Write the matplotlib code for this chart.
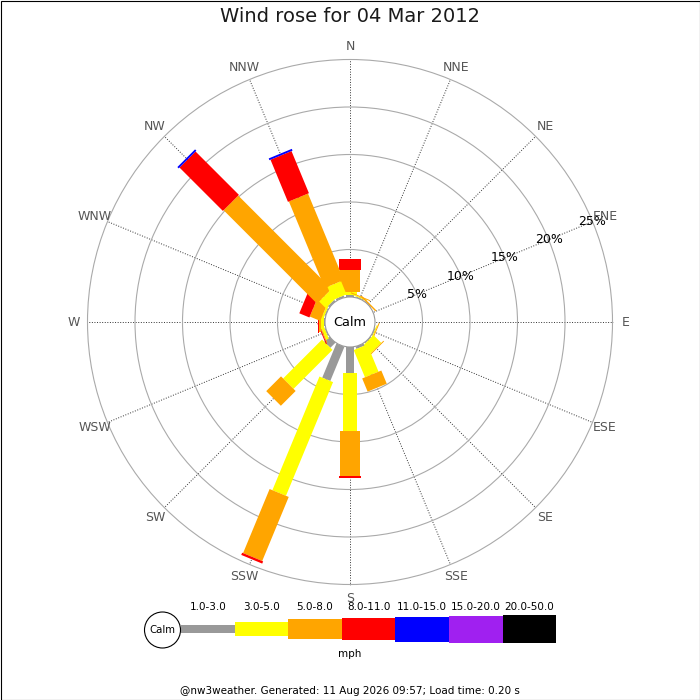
import numpy as np
import matplotlib
matplotlib.use('Agg')
from matplotlib import pyplot as plt
from matplotlib.patches import Polygon, Circle, Rectangle

# direcciones y bandas de velocidad (mph)
direcciones = ['N', 'NNE', 'NE', 'ENE', 'E', 'ESE', 'SE', 'SSE',
               'S', 'SSW', 'SW', 'WSW', 'W', 'WNW', 'NW', 'NNW']
bandas = ['1.0-3.0', '3.0-5.0', '5.0-8.0', '8.0-11.0', '11.0-15.0', '15.0-20.0', '20.0-50.0']
colores = ['#999999', '#ffff00', '#ffa500', '#ff0000', '#0000ff', '#a020f0', '#000000']
anchos_px = [8.7, 14.7, 20.7, 22.7, 25, 27, 28.5]

# frecuencia (%) por direccion para cada banda
gris     = [0.2, 0.1, 0.05, 0.0, 0.05, 0.1, 0.1, 0.25, 2.7, 3.9, 0.75, 0.1, 0.1, 0.1, 0.2, 0.2]
amarillo = [0.3, 0.1, 0.0, 0.0, 0.0, 0.1, 1.15, 3.1, 6.1, 12.95, 5.8, 0.3, 0.3, 0.2, 1.0, 1.5]
naranja  = [2.3, 0.1, 0.15, 0.0, 0.0, 0.1, 0.1, 1.5, 4.74, 7.3, 2.2, 0.1, 0.25, 1.2, 13.9, 9.85]
rojo     = [1.15, 0.0, 0.0, 0.0, 0.0, 0.0, 0.0, 0.0, 0.27, 0.25, 0.0, 0.1, 0.1, 1.15, 6.45, 4.8]
azul     = [0.0] * 14 + [0.2, 0.2]
morado   = [0.0] * 16
negro    = [0.0] * 16
datos = [gris, amarillo, naranja, rojo, azul, morado, negro]

anillos = [5, 10, 15, 20, 25]

PX = 9.5            # pixeles por 1%
CALMA = 25 / PX     # radio del circulo de calma
L = 30
CX, CY = 350, 322

fig = plt.figure(figsize=(7, 7), dpi=100)
fig.patch.set_facecolor('white')

# ejes en pixeles para titulo, leyenda y pie
axp = fig.add_axes([0, 0, 1, 1])
axp.set_xlim(0, 700)
axp.set_ylim(700, 0)
axp.axis('off')

ax = fig.add_axes([(CX - L * PX) / 700, (700 - CY - L * PX) / 700, 2 * L * PX / 700, 2 * L * PX / 700])
ax.set_xlim(-L, L)
ax.set_ylim(-L, L)
ax.axis('off')

angulos = np.radians(np.arange(16) * 22.5)
R = CALMA + anillos[-1]

for a in angulos:
    ax.plot([0, R * np.sin(a)], [0, R * np.cos(a)], ls=':', color='#333333', lw=0.7, zorder=1)
for p in anillos:
    ax.add_patch(Circle((0, 0), CALMA + p, fill=False, edgecolor='#aaaaaa', lw=0.8, zorder=1))

# barras apiladas
for i, a in enumerate(angulos):
    u = np.array([np.sin(a), np.cos(a)])
    perp = np.array([np.cos(a), -np.sin(a)])
    inicio = CALMA
    for b in range(len(bandas)):
        v = datos[b][i]
        if v <= 0:
            continue
        fin = inicio + v
        w = anchos_px[b] / PX / 2
        pts = [inicio * u - w * perp, fin * u - w * perp, fin * u + w * perp, inicio * u + w * perp]
        ax.add_patch(Polygon(pts, closed=True, facecolor=colores[b], edgecolor='none', zorder=3))
        inicio = fin

ax.add_patch(Circle((0, 0), CALMA, facecolor='white', edgecolor='#999999', lw=0.8, zorder=5))
ax.text(0, 0, 'Calm', ha='center', va='center', fontsize=9.3, zorder=6)

# etiquetas de porcentaje sobre la linea ENE
a_lab = np.radians(67.5)
for p in anillos:
    r = CALMA + p
    ax.text(r * np.sin(a_lab), r * np.cos(a_lab), '%d%%' % p, ha='center', va='center',
            fontsize=9, color='black', zorder=6)

# etiquetas de direccion
r_dir = 276 / PX
for nombre, a in zip(direcciones, angulos):
    ax.text(r_dir * np.sin(a), r_dir * np.cos(a), nombre, ha='center', va='center',
            fontsize=9, color='#555555', zorder=6)

# titulo
axp.text(350, 17, 'Wind rose for 04 Mar 2012', ha='center', va='center', fontsize=14, color='#1a1a1a')

# leyenda
x0, seg = 181, 53.6
ly = 629
for b in range(len(bandas)):
    h = anchos_px[b]
    axp.add_patch(Rectangle((x0 + b * seg, ly - h / 2), seg, h, facecolor=colores[b], edgecolor='none'))
    axp.text(x0 + (b + 0.5) * seg, 607, bandas[b], ha='center', va='center', fontsize=7.5)
axp.add_patch(Circle((162.5, 630), 18, facecolor='white', edgecolor='black', lw=0.8, zorder=4))
axp.text(162.5, 630, 'Calm', ha='center', va='center', fontsize=7.3, zorder=5)
axp.text(350, 654, 'mph', ha='center', va='center', fontsize=7.5)

# pie
axp.text(350, 691, '@nw3weather. Generated: 11 Aug 2026 09:57; Load time: 0.20 s',
         ha='center', va='center', fontsize=7.5)

# marco
axp.add_patch(Rectangle((0.5, 0.5), 699, 699, fill=False, edgecolor='black', lw=0.8, clip_on=False))

fig.savefig('out.png', dpi=100)
